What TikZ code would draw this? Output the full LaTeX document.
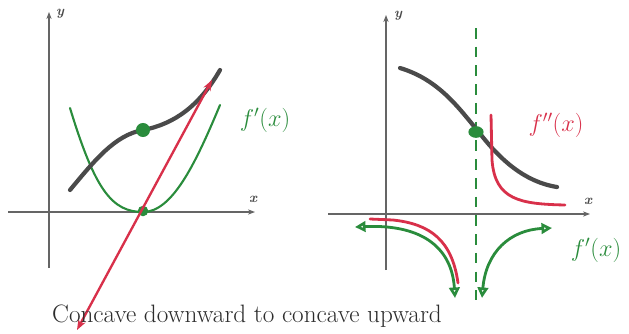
\documentclass[tikz,border=0pt]{standalone}
\usepackage{amsmath}
\usepackage{tikz}
\usetikzlibrary{arrows.meta,shapes.geometric}
\usepackage{xcolor}
\definecolor{pen}{HTML}{4A4A4A}
\definecolor{mkgreen}{HTML}{2A8C3C}
\definecolor{mkred}{HTML}{D8304A}

\begin{document}
\begin{tikzpicture}[x=0.03cm, y=-0.03cm,
  axis/.style={draw=pen!85, line width=2.2pt, -{Stealth[length=6pt]}},
  axlabel/.style={font=\large\itshape\bfseries, text=pen, inner sep=1pt},
  graphline/.style={draw=pen, line width=3.6pt, line cap=round},
  deriv/.style={draw=mkgreen, line width=2.4pt, line cap=round},
  second/.style={draw=mkred, line width=2.4pt, line cap=round},
  dot/.style={circle, fill=mkgreen, inner sep=0pt},
  hand/.style={font=\fontsize{20}{24}\selectfont, inner sep=1pt},
]
\useasboundingbox (0,0) rectangle (629,333);

% Left graph: axes
\draw[axis] (49,268) -- (49,12);
\draw[axis] (8,212) -- (255,212);
\node[axlabel] (ly) at (60,14) {y};
\node[axlabel] (lx) at (253,199) {x};

% f'(x) parabola and f(x)
\draw[deriv, line width=1.8pt] (70,108) .. controls (95,190) and (112,212) .. (143,212)
  .. controls (172,212) and (195,165) .. (220,105);
\draw[graphline] (70,190) .. controls (95,160) and (115,135) .. (143,130)
  .. controls (175,124) and (200,105) .. (220,70);
\node[dot, minimum size=12pt] (infl) at (143,130) {};
\node[dot, minimum size=9pt] (minpt) at (143,211) {};

% tangent line
\coordinate (tantop) at (212,80);
\coordinate (tanbot) at (77,330);
\draw[second, line width=2pt, {Stealth[length=9pt]}-{Stealth[length=9pt]}] (tanbot) -- (tantop);
\node[hand, text=mkgreen] (fpl) at (265,120) {$f'(x)$};

% Right graph: axes
\draw[axis] (386,270) -- (386,15);
\draw[axis] (328,214) -- (590,214);
\node[axlabel] (ry) at (398,16) {y};
\node[axlabel] (rx) at (588,201) {x};

% asymptote at the inflection
\draw[draw=mkgreen, line width=1.8pt, dash pattern=on 9pt off 7pt] (476,28) -- (476,300);

% f(x) and f''(x)
\draw[graphline] (400,68) .. controls (440,80) and (460,110) .. (478,131)
  .. controls (500,160) and (525,182) .. (557,187);
\draw[second] (491,115) -- (492,160) .. controls (495,200) and (520,204) .. (565,205);
\draw[second] (370,219) -- (393,220) .. controls (430,224) and (452,240) .. (458,283);
\node[ellipse, fill=mkgreen, inner sep=0pt, minimum width=13pt, minimum height=10pt] (infr) at (476,132) {};
\node[hand, text=mkred] (fppr) at (556,125) {$f''(x)$};

% f'(x) branches
\draw[deriv, {Triangle[open, length=9pt, width=9pt]}-{Triangle[open, length=9pt, width=9pt]}]
  (355,227) .. controls (425,224) and (452,250) .. (455,298);
\draw[deriv, {Triangle[open, length=9pt, width=9pt]}-{Triangle[open, length=9pt, width=9pt]}]
  (482,298) .. controls (486,252) and (510,230) .. (552,228);
\node[hand, text=mkgreen] (fpr) at (596,250) {$f'(x)$};

% caption
\node[font=\fontsize{21.5}{24}\selectfont, text=pen!60!black] (cap) at (247,316) {Concave downward to concave upward};
\end{tikzpicture}
\end{document}
